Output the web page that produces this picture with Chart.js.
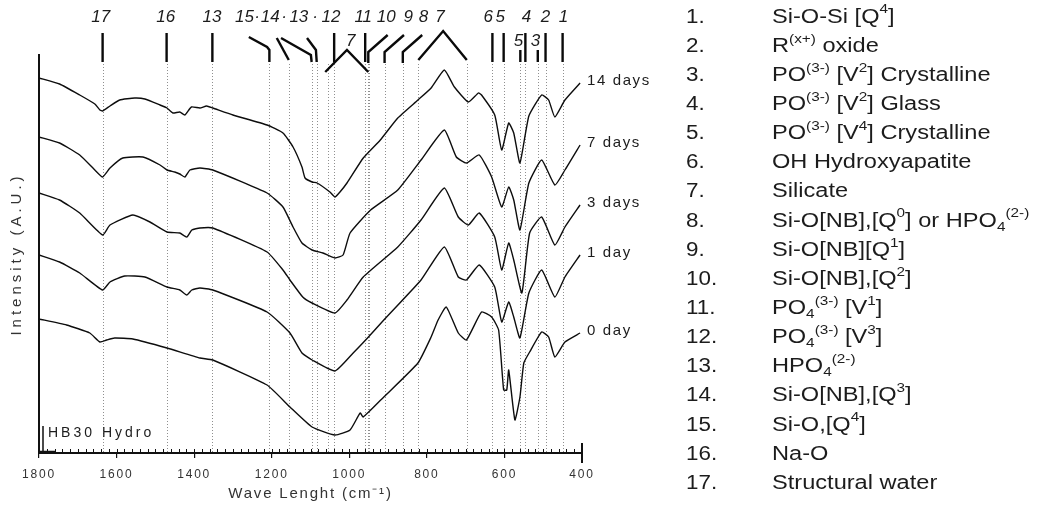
<!DOCTYPE html>
<html>
<head>
<meta charset="utf-8">
<script src="https://cdn.jsdelivr.net/npm/chart.js@4/dist/chart.umd.min.js"></script>
<style>
  html, body { margin: 0; padding: 0; background: #fff; }
  #wrap { width: 1041px; height: 508px; position: relative; }
</style>
</head>
<body>
<div id="wrap"><canvas id="c" width="1041" height="508"></canvas></div>
<script>
// FTIR spectra of HB30 glass after hydrolysis (0 to 14 days), stacked with offsets.
// Wavenumber in cm-1, intensity in arbitrary units.

const seriesNames = ['14 days', '7 days', '3 days', '1 day', '0 day'];

const wn14 = [1800,1747,1695,1656,1643,1636,1617,1592,1553,1527,1488,1470,1455,1437,1424,1407,1385,1368,1352,1300,1212,1171,1145,1122,1114,1096,1083,1050,1037,1024,1006,964,920,875,823,789,755,729,693,667,659,625,607,589,576,560,537,504,486,470,444,405];
const int14 = [375,369,358,349,343,342,347,353,355,354,348,345,340,341,338,346,345,347,345,338,328,320,306,286,275,271,270,261,256,261,270,295,313,335,353,365,383,366,351,360,358,338,303,330,320,290,337,358,353,336,353,370];

const wn7 = [1800,1747,1695,1656,1636,1617,1584,1532,1488,1470,1450,1437,1424,1411,1385,1352,1212,1171,1145,1122,1096,1068,1037,1016,998,945,875,815,755,724,698,665,633,607,589,576,560,537,504,470,444,405];
const int7 = [316,310,298,283,276,285,295,296,288,283,281,279,276,283,285,283,260,246,226,210,203,200,195,198,220,243,263,293,323,296,290,298,276,246,266,253,223,270,293,268,283,308];

const wn3 = [1800,1747,1695,1636,1617,1558,1514,1470,1437,1419,1406,1385,1352,1212,1171,1153,1120,1096,1037,1006,964,875,815,755,719,693,665,625,607,589,576,555,535,504,470,444,405];
const int3 = [260,253,240,218,228,238,231,221,220,216,223,225,225,201,183,173,156,150,140,153,176,206,233,265,236,228,240,216,183,210,193,160,220,236,208,226,248];

const wn1 = [1800,1747,1695,1636,1617,1579,1527,1470,1437,1419,1406,1385,1352,1212,1153,1122,1096,1037,990,953,911,815,755,719,698,665,625,607,589,576,560,537,504,470,444,405];
const int1 = [198,191,180,163,171,177,176,166,163,158,163,165,163,141,120,100,93,82,100,115,133,173,206,176,173,188,166,131,151,136,115,160,183,156,176,198];

const wn0 = [1800,1729,1669,1643,1626,1605,1558,1470,1385,1352,1212,1153,1096,1037,998,972,964,911,823,789,771,750,719,698,659,633,615,602,594,589,573,560,550,535,504,486,470,444,405];
const int0 = [134,128,120,111,113,115,114,105,95,93,68,46,26,18,23,40,36,56,90,116,133,146,120,113,141,136,123,63,63,83,33,56,90,101,121,116,96,111,120];

// x-axis labelled ticks
const xTickValues = [1800, 1600, 1400, 1200, 1000, 800, 600, 400];

// band positions (cm-1) marked with dotted guide lines
const bandLineWn = [1636,1471,1353,1206,1156,1097,1084,1054,1039,959,953,948,909,862,822,697,631,602,559,546,514,494,450];

// band numbers above the plot: text, wavenumber of the text, row (0 = upper, 1 = lower)
const bandLabelText = ['17','16','13','15','·','14','·','13','·','12','11','10','9','8','7','6','5','4','2','1','7','5','3'];
const bandLabelWn   = [1641,1473,1354,1270,1238,1204,1168,1130,1088,1047,964,905,848,809,766,642,611,543,494,448,996,564,520];
const bandLabelRow  = [0,0,0,0,0,0,0,0,0,0,0,0,0,0,0,0,0,0,0,0,1,1,1];

// leaders from the band numbers to the guide lines: [wavenumber, height] points
const bandLeaders = [
  [[1636,33],[1636,62]],
  [[1471,33],[1471,62]],
  [[1353,33],[1353,62]],
  [[1259,37],[1212,47],[1206,50],[1206,62]],
  [[1187,38],[1156,60]],
  [[1176,38],[1099,55],[1097,62]],
  [[1109,38],[1086,50],[1084,62]],
  [[1039,33],[1039,62]],
  [[1062,72],[1006,50],[951,72]],
  [[959,33],[959,62]],
  [[901,35],[951,52],[951,63]],
  [[859,35],[909,52],[909,63]],
  [[812,35],[862,52],[862,63]],
  [[822,60],[758,31],[697,60]],
  [[631,33],[631,62]],
  [[602,33],[602,62]],
  [[546,33],[546,62]],
  [[559,50],[559,62]],
  [[514,50],[514,62]],
  [[494,33],[494,62]],
  [[450,33],[450,62]]
];

// band assignments, each as runs of [text, style]
const bandNames = [
  [['Si-O-Si [Q'],['4','sup'],[']']],
  [['R'],['(x+)','sup'],[' oxide']],
  [['PO'],['(3-)','sup'],[' [V'],['2','sup'],['] Crystalline']],
  [['PO'],['(3-)','sup'],[' [V'],['2','sup'],['] Glass']],
  [['PO'],['(3-)','sup'],[' [V'],['4','sup'],['] Crystalline']],
  [['OH Hydroxyapatite']],
  [['Silicate']],
  [['Si-O[NB],[Q'],['0','sup'],['] or HPO'],['4','sub'],['(2-)','sup']],
  [['Si-O[NB][Q'],['1','sup'],[']']],
  [['Si-O[NB],[Q'],['2','sup'],[']']],
  [['PO'],['4','sub'],['(3-)','sup'],[' [V'],['1','sup'],[']']],
  [['PO'],['4','sub'],['(3-)','sup'],[' [V'],['3','sup'],[']']],
  [['HPO'],['4','sub'],['(2-)','sup']],
  [['Si-O[NB],[Q'],['3','sup'],[']']],
  [['Si-O,[Q'],['4','sup'],[']']],
  [['Na-O']],
  [['Structural water']]
];

const sampleName = 'HB30 Hydro';

const SANS = '"Liberation Sans", Arial, sans-serif';
const INK = '#1c1c1c';

function toPoints(wn, val) { return wn.map((w, i) => ({ x: w, y: val[i] })); }

const seriesData = [
  toPoints(wn14, int14), toPoints(wn7, int7), toPoints(wn3, int3),
  toPoints(wn1, int1), toPoints(wn0, int0)
];

// draws runs of normal / superscript / subscript text, widened horizontally
function drawRich(ctx, parts, x, y, size, widen) {
  ctx.save();
  ctx.translate(x, y);
  ctx.scale(widen, 1);
  let cx = 0;
  for (const [txt, mode] of parts) {
    let fs = size, dy = 0;
    if (mode === 'sup') { fs = Math.round(size * 0.66); dy = -size * 0.36; }
    else if (mode === 'sub') { fs = Math.round(size * 0.66); dy = size * 0.3; }
    ctx.font = fs + 'px ' + SANS;
    ctx.fillText(txt, cx, dy);
    cx += ctx.measureText(txt).width;
  }
  ctx.restore();
}

// letter spacing for the text an axis draws itself
function spaceAxisText(scale, labelGap, titleGap) {
  if (scale._spaced) return;
  scale._spaced = true;
  const origLabels = scale.drawLabels;
  const origTitle = scale.drawTitle;
  scale.drawLabels = function (...a) {
    const c = this.ctx; const prev = c.letterSpacing;
    c.letterSpacing = labelGap; origLabels.apply(this, a); c.letterSpacing = prev;
  };
  scale.drawTitle = function (...a) {
    const c = this.ctx; const prev = c.letterSpacing;
    c.letterSpacing = titleGap; origTitle.apply(this, a); c.letterSpacing = prev;
  };
}

const decorPlugin = {
  id: 'spectraDecor',
  afterLayout(chart) {
    spaceAxisText(chart.scales.x, '1.8px', '1.8px');
    spaceAxisText(chart.scales.y, '0px', '4px');
  },
  beforeDatasetsDraw(chart) {
    const { ctx, chartArea, scales: { x } } = chart;
    ctx.save();
    // dotted guide lines at the band positions
    ctx.strokeStyle = '#8f8f8f';
    ctx.lineWidth = 1;
    ctx.setLineDash([1, 2]);
    for (const w of bandLineWn) {
      const px = Math.round(x.getPixelForValue(w)) + 0.5;
      ctx.beginPath();
      ctx.moveTo(px, chartArea.top + 9);
      ctx.lineTo(px, chartArea.bottom);
      ctx.stroke();
    }
    ctx.setLineDash([]);
    // minor ticks every 20 cm-1, pointing into the plot
    ctx.strokeStyle = '#111';
    for (let w = 1780; w > 400; w -= 20) {
      const px = Math.round(x.getPixelForValue(w)) + 0.5;
      ctx.beginPath();
      ctx.moveTo(px, chartArea.bottom);
      ctx.lineTo(px, chartArea.bottom - 4);
      ctx.stroke();
    }
    // end marker at 400
    const pEnd = Math.round(x.getPixelForValue(400));
    ctx.lineWidth = 2;
    ctx.beginPath();
    ctx.moveTo(pEnd, chartArea.bottom - 10);
    ctx.lineTo(pEnd, chartArea.bottom + 10);
    ctx.stroke();
    // sample tag in the lower-left corner
    ctx.lineWidth = 1.5;
    ctx.beginPath();
    ctx.moveTo(chartArea.left + 4, chartArea.bottom - 27);
    ctx.lineTo(chartArea.left + 4, chartArea.bottom - 1);
    ctx.moveTo(chartArea.left, chartArea.bottom - 1.5);
    ctx.lineTo(chartArea.left + 16, chartArea.bottom - 1.5);
    ctx.stroke();
    ctx.fillStyle = INK;
    ctx.font = '14px ' + SANS;
    ctx.letterSpacing = '3px';
    ctx.textBaseline = 'middle';
    ctx.textAlign = 'left';
    ctx.fillText(sampleName, chartArea.left + 9, chartArea.bottom - 20);
    ctx.restore();
  },
  afterDraw(chart) {
    const { ctx, scales: { x } } = chart;
    ctx.save();
    ctx.fillStyle = INK;
    ctx.strokeStyle = '#0a0a0a';
    ctx.textBaseline = 'middle';

    // series names at the right end of each trace
    ctx.letterSpacing = '1.6px';
    ctx.font = '15px ' + SANS;
    ctx.textAlign = 'left';
    chart.data.datasets.forEach((ds, i) => {
      const meta = chart.getDatasetMeta(i);
      const last = meta.data[meta.data.length - 1];
      ctx.fillText(ds.label, last.x + 7, last.y - 2);
    });

    // band numbers and leaders above the traces
    ctx.letterSpacing = '0px';
    ctx.textAlign = 'center';
    ctx.font = 'italic 17px ' + SANS;
    bandLabelText.forEach((t, i) => {
      const y = bandLabelRow[i] === 0 ? 17 : 41;
      ctx.fillText(t, x.getPixelForValue(bandLabelWn[i]), y);
    });
    ctx.lineWidth = 2.4;
    ctx.lineCap = 'butt';
    ctx.lineJoin = 'miter';
    for (const pts of bandLeaders) {
      ctx.beginPath();
      pts.forEach(([w, y], j) => {
        const px = x.getPixelForValue(w);
        if (j === 0) ctx.moveTo(px, y); else ctx.lineTo(px, y);
      });
      ctx.stroke();
    }

    // band assignment list
    ctx.textAlign = 'left';
    const size = 20;
    bandNames.forEach((parts, i) => {
      const y = 17 + i * 29.15;
      drawRich(ctx, [[(i + 1) + '.']], 686, y, size, 1.12);
      drawRich(ctx, parts, 772, y, size, 1.18);
    });
    ctx.restore();
  }
};

new Chart(document.getElementById('c'), {
  type: 'line',
  data: {
    datasets: seriesNames.map((name, i) => ({
      label: name,
      data: seriesData[i],
      borderColor: '#0d0d0d',
      borderWidth: 1.4,
      pointRadius: 0,
      tension: 0.15,
      fill: false
    }))
  },
  options: {
    responsive: false,
    animation: false,
    events: [],
    devicePixelRatio: 1,
    layout: { padding: { top: 55, right: 459, left: 0, bottom: 0 } },
    plugins: { legend: { display: false }, tooltip: { enabled: false } },
    scales: {
      x: {
        type: 'linear',
        reverse: true,
        min: 400,
        max: 1800,
        afterFit(s) { s.height = 55; },
        afterBuildTicks(s) { s.ticks = xTickValues.map(v => ({ value: v })); },
        grid: { display: true, drawOnChartArea: false, drawTicks: true, tickLength: 5, color: '#111', lineWidth: 1.2 },
        border: { display: true, color: '#111', width: 2 },
        ticks: {
          color: '#333',
          font: { family: SANS, size: 12 },
          padding: 9,
          maxRotation: 0,
          autoSkip: false,
          callback: v => String(v)
        },
        title: {
          display: true,
          text: 'Wave Lenght (cm⁻¹)',
          color: '#333',
          font: { family: SANS, size: 15 },
          padding: { top: 0, bottom: 5 }
        }
      },
      y: {
        min: 0,
        max: 398,
        afterFit(s) { s.width = 39; },
        grid: { display: false },
        border: { display: true, color: '#111', width: 2 },
        ticks: { display: false },
        title: {
          display: true,
          text: 'Intensity (A.U.)',
          color: '#333',
          font: { family: SANS, size: 15 },
          padding: { top: 8, bottom: 0 }
        }
      }
    }
  },
  plugins: [decorPlugin]
});
</script>
</body>
</html>
